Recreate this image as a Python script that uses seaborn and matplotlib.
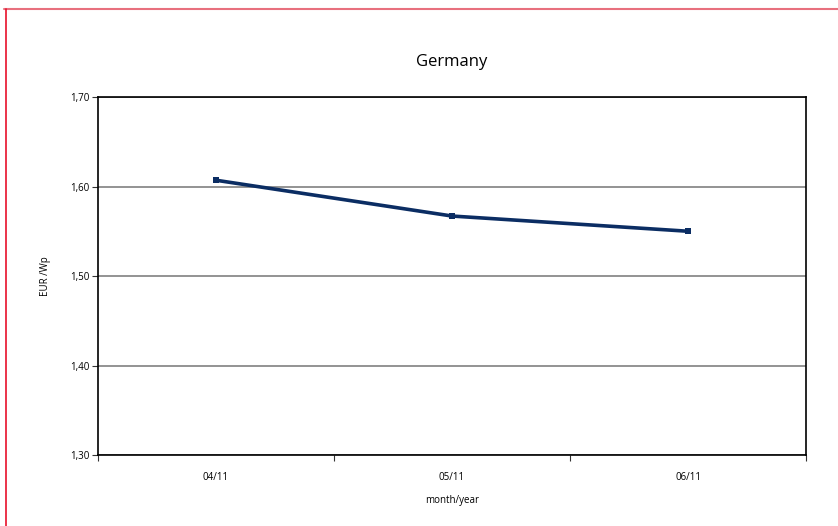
import matplotlib
matplotlib.use("Agg")
import matplotlib.pyplot as plt
from matplotlib.lines import Line2D
from matplotlib.ticker import FixedLocator, FuncFormatter
import seaborn as sns
import pandas as pd

months = ["04/11", "05/11", "06/11"]
price = [1.607, 1.567, 1.550]

df = pd.DataFrame({"month": months, "price": price})

sns.set_style("white")
plt.rcParams['font.family'] = ['Open Sans', 'DejaVu Sans']
plt.rcParams['text.color'] = 'black'
plt.rcParams['axes.labelcolor'] = 'black'
plt.rcParams['xtick.color'] = 'black'
plt.rcParams['ytick.color'] = 'black'

fig = plt.figure(figsize=(8.38, 5.26), dpi=100)
ax = fig.add_axes([98/838, 1 - 455/526, 708/838, 358/526])

sns.lineplot(data=df, x="month", y="price", ax=ax, color="#0b2d63",
             linewidth=2.6, marker="s", markersize=5, markeredgewidth=0)

ax.set_xlim(-0.5, 2.5)
ax.set_ylim(1.30, 1.70)
ax.yaxis.set_major_locator(FixedLocator([1.30, 1.40, 1.50, 1.60, 1.70]))
ax.yaxis.set_major_formatter(FuncFormatter(lambda v, p: f"{v:.2f}".replace(".", ",")))
ax.grid(axis="y", color="#808080", linewidth=1.2)
ax.set_axisbelow(True)

ax.set_xticks([0, 1, 2])
ax.set_xticklabels(months)
ax.tick_params(axis="x", which="major", length=0, pad=12, labelsize=7)
ax.set_xticks([-0.5, 0.5, 1.5, 2.5], minor=True)
ax.tick_params(axis="x", which="minor", bottom=True, length=4, width=0.8,
               color="#333333", direction="out")
ax.tick_params(axis="y", length=4, width=0.8, color="#333333", labelsize=7, pad=2,
               left=True, direction="out")

for s in ax.spines.values():
    s.set_color("black")
    s.set_linewidth(1.2)

ax.set_xlabel("month/year", fontsize=7, labelpad=9)
ax.set_ylabel("EUR /Wp", fontsize=7, labelpad=14)
fig.text(452/838, 1 - 62/526, "Germany", ha="center", va="center", fontsize=12)

# red frame lines
fig.add_artist(Line2D([4/838, 1], [1 - 9/526, 1 - 9/526], color="#e8707e", linewidth=1.5,
                      transform=fig.transFigure))
fig.add_artist(Line2D([6/838, 6/838], [0, 1 - 9/526], color="#e8102a", linewidth=1.2,
                      transform=fig.transFigure))

fig.savefig("out.png", dpi=100)
